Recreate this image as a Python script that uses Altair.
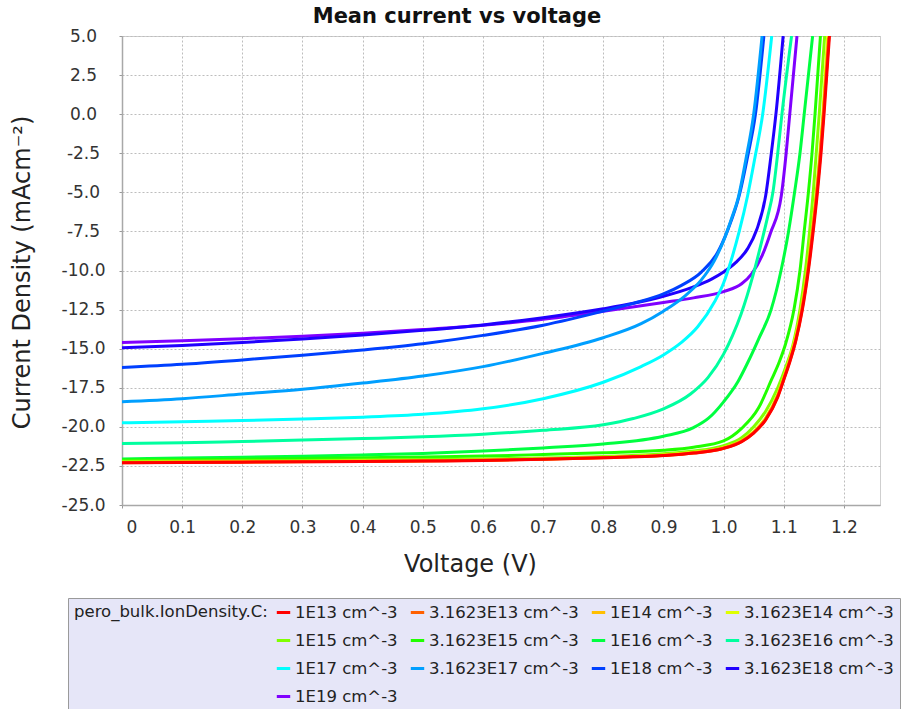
import altair as alt
import pandas as pd

labels = ["1E13 cm^-3", "3.1623E13 cm^-3", "1E14 cm^-3", "3.1623E14 cm^-3",
          "1E15 cm^-3", "3.1623E15 cm^-3", "1E16 cm^-3", "3.1623E16 cm^-3",
          "1E17 cm^-3", "3.1623E17 cm^-3", "1E18 cm^-3", "3.1623E18 cm^-3",
          "1E19 cm^-3"]
colors = ["#ff0000", "#ff6000", "#ffbf00", "#dfff00", "#80ff00", "#20ff00",
          "#00ff40", "#00ff9f", "#00ffff", "#009fff", "#0040ff", "#2000ff",
          "#8000ff"]

v_1e13 = [0, 0.1, 0.2, 0.3, 0.4, 0.5, 0.6, 0.7, 0.8, 0.9, 0.95, 1.0, 1.03, 1.05, 1.07, 1.09, 1.1, 1.11, 1.12, 1.131, 1.141, 1.149, 1.156, 1.162, 1.167, 1.176]
j_1e13 = [-22.3, -22.28, -22.26, -22.24, -22.22, -22.19, -22.15, -22.08, -21.98, -21.84, -21.68, -21.38, -20.95, -20.4, -19.55, -18.1, -17.0, -15.85, -14.5, -12.5, -10.0, -7.5, -5.0, -2.5, 0.0, 5.0]

v_3e13 = [0, 0.1, 0.2, 0.3, 0.4, 0.5, 0.6, 0.7, 0.8, 0.9, 0.95, 1.0, 1.03, 1.05, 1.07, 1.09, 1.1, 1.11, 1.12, 1.13, 1.14, 1.148, 1.155, 1.161, 1.166, 1.175]
j_3e13 = [-22.29, -22.27, -22.25, -22.23, -22.21, -22.18, -22.14, -22.07, -21.97, -21.83, -21.67, -21.37, -20.93, -20.38, -19.52, -18.05, -16.95, -15.8, -14.45, -12.6, -10.1, -7.55, -5.05, -2.55, -0.05, 4.9]

v_1e14 = [0, 0.1, 0.2, 0.3, 0.4, 0.5, 0.6, 0.7, 0.8, 0.9, 0.95, 1.0, 1.03, 1.05, 1.07, 1.09, 1.1, 1.11, 1.12, 1.13, 1.14, 1.148, 1.155, 1.161, 1.166, 1.175]
j_1e14 = [-22.28, -22.26, -22.24, -22.22, -22.2, -22.17, -22.13, -22.06, -21.96, -21.82, -21.66, -21.35, -20.91, -20.36, -19.49, -18.0, -16.9, -15.72, -14.35, -12.45, -9.95, -7.4, -4.9, -2.4, 0.1, 5.0]

v_3e14 = [0, 0.1, 0.2, 0.3, 0.4, 0.5, 0.6, 0.7, 0.8, 0.9, 0.95, 1.0, 1.03, 1.05, 1.07, 1.09, 1.1, 1.11, 1.12, 1.13, 1.14, 1.147, 1.154, 1.16, 1.165, 1.173]
j_3e14 = [-22.27, -22.25, -22.23, -22.21, -22.19, -22.16, -22.12, -22.05, -21.95, -21.8, -21.63, -21.32, -20.87, -20.3, -19.42, -17.92, -16.8, -15.6, -14.2, -12.25, -9.75, -7.5, -5.0, -2.5, 0.0, 5.0]

v_1e15 = [0, 0.1, 0.2, 0.3, 0.4, 0.5, 0.6, 0.7, 0.8, 0.9, 0.95, 1.0, 1.03, 1.05, 1.07, 1.09, 1.105, 1.115, 1.127, 1.136, 1.143, 1.149, 1.154, 1.159, 1.168]
j_1e15 = [-22.2, -22.19, -22.17, -22.15, -22.12, -22.09, -22.05, -22.0, -21.9, -21.72, -21.55, -21.2, -20.7, -20.0, -19.0, -17.5, -16.0, -14.8, -12.5, -10.0, -7.5, -5.0, -2.5, 0.0, 5.0]

v_3e15 = [0, 0.1, 0.2, 0.3, 0.4, 0.5, 0.6, 0.7, 0.8, 0.9, 0.95, 1.0, 1.03, 1.058, 1.08, 1.092, 1.103, 1.117, 1.127, 1.134, 1.141, 1.147, 1.152, 1.161]
j_3e15 = [-22.12, -22.1, -22.07, -22.03, -21.98, -21.93, -21.87, -21.77, -21.66, -21.5, -21.3, -20.9, -20.1, -18.8, -16.95, -15.9, -14.7, -12.5, -10.0, -7.5, -5.0, -2.5, 0.0, 5.0]

v_1e16 = [0, 0.1, 0.2, 0.3, 0.4, 0.5, 0.6, 0.7, 0.8, 0.9, 0.95, 0.975, 1.0, 1.024, 1.04, 1.058, 1.079, 1.0955, 1.108, 1.118, 1.127, 1.134, 1.148]
j_1e16 = [-22.05, -22.0, -21.95, -21.88, -21.8, -21.7, -21.55, -21.35, -21.1, -20.6, -20.05, -19.45, -18.4, -17.1, -15.9, -14.4, -12.5, -10.0, -7.5, -5.0, -2.5, 0.0, 5.0]

v_3e16 = [0, 0.1, 0.2, 0.3, 0.4, 0.5, 0.6, 0.7, 0.8, 0.85, 0.9, 0.945, 0.974, 1.0, 1.015, 1.029, 1.049, 1.063, 1.073, 1.082, 1.09, 1.097, 1.113]
j_3e16 = [-21.06, -21.02, -20.94, -20.85, -20.75, -20.64, -20.47, -20.22, -19.87, -19.47, -18.85, -17.9, -16.85, -15.35, -14.15, -12.8, -10.3, -8.2, -6.6, -5.0, -2.5, 0.0, 5.0]

v_1e17 = [0, 0.1, 0.2, 0.3, 0.4, 0.5, 0.6, 0.7, 0.8, 0.862, 0.9, 0.93, 0.957, 0.985, 1.0, 1.013, 1.026, 1.04, 1.052, 1.065, 1.08]
j_1e17 = [-19.74, -19.67, -19.6, -19.5, -19.38, -19.2, -18.85, -18.2, -17.15, -16.16, -15.4, -14.6, -13.6, -12.0, -10.8, -9.3, -7.5, -5.2, -2.8, 0.0, 5.0]

v_3e17 = [0, 0.1, 0.2, 0.3, 0.4, 0.5, 0.6, 0.7, 0.8, 0.863, 0.9, 0.935, 0.963, 0.985, 1.002, 1.013, 1.024, 1.037, 1.05, 1.064]
j_3e17 = [-18.39, -18.2, -17.9, -17.6, -17.2, -16.75, -16.15, -15.3, -14.3, -13.4, -12.6, -11.65, -10.6, -9.35, -7.9, -6.7, -5.4, -2.9, 0.0, 5.0]

v_1e18 = [0, 0.1, 0.2, 0.3, 0.4, 0.5, 0.6, 0.7, 0.8, 0.85, 0.9, 0.93, 0.963, 0.99, 1.007, 1.026, 1.04, 1.053, 1.067]
j_1e18 = [-16.2, -16.0, -15.72, -15.42, -15.08, -14.68, -14.15, -13.5, -12.6, -12.1, -11.5, -10.95, -10.1, -8.85, -7.4, -5.2, -2.7, 0.0, 5.0]

v_3e18 = [0, 0.1, 0.2, 0.3, 0.4, 0.5, 0.6, 0.7, 0.8, 0.85, 0.9, 0.95, 0.98, 1.0, 1.02, 1.04, 1.055, 1.07, 1.079, 1.087, 1.099]
j_3e18 = [-14.95, -14.8, -14.6, -14.38, -14.13, -13.83, -13.48, -13.02, -12.45, -12.1, -11.65, -11.05, -10.55, -10.1, -9.5, -8.6, -7.4, -5.2, -2.6, 0.0, 5.0]

v_1e19 = [0, 0.1, 0.2, 0.3, 0.4, 0.5, 0.6, 0.7, 0.8, 0.9, 0.95, 1.0, 1.03, 1.047, 1.064, 1.078, 1.096, 1.104, 1.11, 1.122]
j_1e19 = [-14.6, -14.5, -14.36, -14.2, -14.02, -13.78, -13.5, -13.12, -12.6, -12.05, -11.75, -11.35, -10.85, -10.2, -9.05, -7.6, -5.2, -2.5, 0.0, 5.0]

series = [
    (v_1e13, j_1e13), (v_3e13, j_3e13), (v_1e14, j_1e14), (v_3e14, j_3e14),
    (v_1e15, j_1e15), (v_3e15, j_3e15), (v_1e16, j_1e16), (v_3e16, j_3e16),
    (v_1e17, j_1e17), (v_3e17, j_3e17), (v_1e18, j_1e18), (v_3e18, j_3e18),
    (v_1e19, j_1e19),
]

x_ticks = [0, 0.1, 0.2, 0.3, 0.4, 0.5, 0.6, 0.7, 0.8, 0.9, 1.0, 1.1, 1.2]
y_ticks = [-25, -22.5, -20, -17.5, -15, -12.5, -10, -7.5, -5, -2.5, 0, 2.5, 5]

rows = []
# draw high densities first so the 1E13 (red) curve ends up on top
for name, (vs, js) in reversed(list(zip(labels, series))):
    for v, j in zip(vs, js):
        rows.append({"V": v, "J": j, "density": name})
df = pd.DataFrame(rows)

FONT = "DejaVu Sans"

chart = alt.Chart(df).mark_line(
    strokeWidth=3, interpolate="monotone", clip=True
).encode(
    x=alt.X("V:Q",
            scale=alt.Scale(domain=[0, 1.26], nice=False, zero=False),
            axis=alt.Axis(values=x_ticks, title="Voltage (V)",
                          labelExpr="datum.value == 0 ? '0' : format(datum.value, '.1f')",
                          labelFlush=True, labelFlushOffset=-4,
                          labelFontSize=17, labelFont=FONT, labelColor="#333",
                          labelPadding=11, tickSize=3, tickColor="#999",
                          domainColor="#a8a8a8", domainWidth=1.5,
                          gridColor="#bdbdbd", gridDash=[2, 2], gridWidth=1,
                          titleFontSize=24, titleFont=FONT, titleFontWeight="normal",
                          titleColor="#222", titlePadding=17, titleX=348)),
    y=alt.Y("J:Q",
            scale=alt.Scale(domain=[-25, 5], nice=False, zero=False),
            axis=alt.Axis(values=y_ticks,
                          labelExpr="(datum.value < 0 ? '-' : '') + format(abs(datum.value), '.1f')",
                          title="Current Density (mAcm⁻²)",
                          labelFontSize=17, labelFont=FONT, labelColor="#333",
                          labelAlign="center", labelPadding=36, tickSize=3, tickColor="#999",
                          domainColor="#a8a8a8", domainWidth=1.5,
                          gridColor="#bdbdbd", gridDash=[2, 2], gridWidth=1,
                          titleFontSize=24, titleFont=FONT, titleFontWeight="normal",
                          titleColor="#222", titleX=-100, titleY=236, titleAngle=-90,
                          titleAlign="center", titleBaseline="middle")),
    color=alt.Color("density:N",
                    scale=alt.Scale(domain=labels, range=colors),
                    legend=alt.Legend(
                        orient="none", legendX=-54, legendY=562,
                        direction="horizontal", columns=4, gridAlign="none",
                        title="pero_bulk.IonDensity.C:", titleOrient="left",
                        titleAnchor="start", titleLimit=400,
                        titleFontSize=16.5, titleFont=FONT, titleFontWeight="normal",
                        titleColor="#222", titlePadding=7,
                        labelFontSize=16.5, labelFont=FONT, labelColor="#222",
                        labelLimit=400, labelOffset=3,
                        symbolType="stroke", symbolStrokeWidth=3, symbolSize=180,
                        fillColor="#e6e6f8", strokeColor="#9a9a9a",
                        padding=6, rowPadding=11, columnPadding=6)),
).properties(
    width=758, height=469,
    title=alt.TitleParams("Mean current vs voltage", fontSize=21, fontWeight="bold",
                          font=FONT, color="#111", anchor="middle", dx=-44, dy=4),
    autosize=alt.AutoSizeParams(type="none"),
    padding={"left": 122, "top": 36, "right": 42, "bottom": 204},
).configure_view(stroke="#cfcfcf", strokeWidth=1)

chart.save("out.html", embed_options={"renderer": "svg", "actions": False})
